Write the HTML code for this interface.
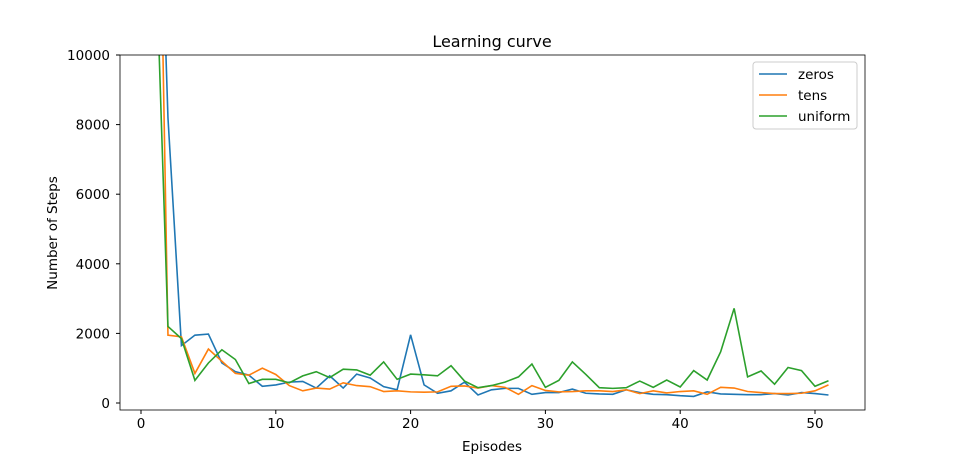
<!DOCTYPE html>
<html><head><meta charset="utf-8"><style>body{margin:0;background:#fff}svg{display:block;font-family:"DejaVu Sans","Liberation Sans",sans-serif}</style></head>
<body>
<svg id="chart" width="960" height="461">
<defs><clipPath id="clip"><rect x="120" y="55" width="745" height="355"/></clipPath></defs>
<rect x="120" y="55" width="745" height="355" fill="#fff" stroke="none"/>
<g id="series" clip-path="url(#clip)"></g>
<rect x="120" y="55" width="745" height="355" fill="none" stroke="#000" stroke-width="0.8"/>
<g id="axes"></g>
<text x="492" y="47" text-anchor="middle" font-size="16">Learning curve</text>
<text x="492" y="451" text-anchor="middle" font-size="13.5">Episodes</text>
<text x="57" y="233" text-anchor="middle" font-size="13.5" transform="rotate(-90 57 233)">Number of Steps</text>
<g id="legend">
<rect x="753" y="62" width="104" height="67" rx="3" fill="#fff" stroke="#ccc"/>
</g>
</svg>
<script>
const episodes=[];for(let i=1;i<=51;i++)episodes.push(i);
const zeros=[20200,8200,1650,1950,1980,1150,900,800,480,520,600,620,430,780,430,830,720,470,380,1960,520,280,350,600,230,380,420,420,250,300,300,400,280,260,250,380,300,250,240,210,190,320,260,250,240,240,270,230,300,270,230];
const tens=[23700,1950,1900,850,1550,1200,850,800,1000,820,500,350,430,400,580,500,470,330,350,320,310,320,480,490,430,500,450,250,500,360,320,330,350,350,330,380,270,350,290,330,350,250,450,430,330,300,270,270,280,350,520];
const uniform=[14200,2200,1850,650,1150,1530,1250,560,680,680,580,780,900,730,970,950,800,1180,680,830,810,780,1070,630,440,500,600,750,1120,450,650,1180,820,440,420,440,630,450,660,460,930,660,1470,2720,750,920,540,1020,930,480,640];
const xTicks=[0,10,20,30,40,50];
const yTicks=[0,2000,4000,6000,8000,10000];
const names=["zeros","tens","uniform"];
const colors=["#1f77b4","#ff7f0e","#2ca02c"];
const X=v=>141+v*13.48;
const Y=v=>403-v*0.0348;
const NS="http://www.w3.org/2000/svg";
const sg=document.getElementById('series');
[zeros,tens,uniform].forEach((s,k)=>{
  const p=document.createElementNS(NS,'polyline');
  p.setAttribute('points',s.map((v,i)=>X(episodes[i])+','+Y(v)).join(' '));
  p.setAttribute('fill','none');p.setAttribute('stroke',colors[k]);p.setAttribute('stroke-width','1.6');
  
  
  sg.appendChild(p);
});
const ax=document.getElementById('axes');
xTicks.forEach(t=>{
  const l=document.createElementNS(NS,'line');
  l.setAttribute('x1',X(t));l.setAttribute('x2',X(t));l.setAttribute('y1',410);l.setAttribute('y2',414);l.setAttribute('stroke','#000');
  
  
  ax.appendChild(l);
  const tx=document.createElementNS(NS,'text');
  tx.setAttribute('x',X(t));tx.setAttribute('y',428);tx.setAttribute('text-anchor','middle');tx.setAttribute('font-size','13.5');tx.textContent=t;
  
  
  ax.appendChild(tx);
});
yTicks.forEach(t=>{
  const l=document.createElementNS(NS,'line');
  l.setAttribute('x1',116);l.setAttribute('x2',120);l.setAttribute('y1',Y(t));l.setAttribute('y2',Y(t));l.setAttribute('stroke','#000');
  
  
  ax.appendChild(l);
  const tx=document.createElementNS(NS,'text');
  tx.setAttribute('x',110);tx.setAttribute('y',Y(t)+5);tx.setAttribute('text-anchor','end');tx.setAttribute('font-size','13.5');tx.textContent=t;
  
  
  ax.appendChild(tx);
});
const lg=document.getElementById('legend');
names.forEach((n,k)=>{
  const y=74+k*21;
  const l=document.createElementNS(NS,'line');
  l.setAttribute('x1',759);l.setAttribute('x2',787);l.setAttribute('y1',y);l.setAttribute('y2',y);l.setAttribute('stroke',colors[k]);l.setAttribute('stroke-width','1.6');
  
  
  lg.appendChild(l);
  const tx=document.createElementNS(NS,'text');
  tx.setAttribute('x',798);tx.setAttribute('y',y+5);tx.setAttribute('font-size','13.5');tx.textContent=n;
  
  
  lg.appendChild(tx);
});
</script>
</body></html>
